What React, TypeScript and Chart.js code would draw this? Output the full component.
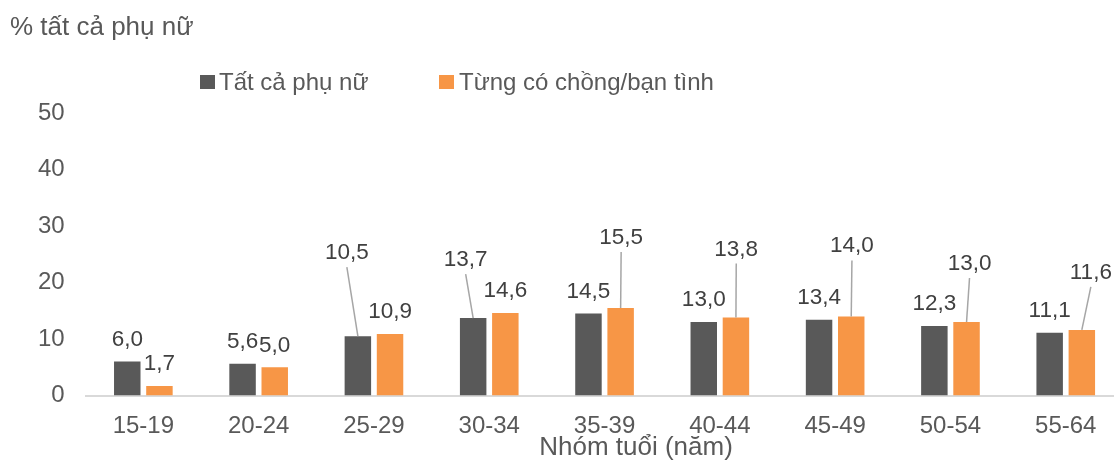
import React, { useEffect, useRef } from "react";
import { Chart, registerables } from "chart.js";

Chart.register(...registerables);

const categories = ["15-19", "20-24", "25-29", "30-34", "35-39", "40-44", "45-49", "50-54", "55-64"];
const allWomen = [6.0, 5.6, 10.5, 13.7, 14.5, 13.0, 13.4, 12.3, 11.1];
const everPartnered = [1.7, 5.0, 10.9, 14.6, 15.5, 13.8, 14.0, 13.0, 11.6];
const yTicks = [0, 10, 20, 30, 40, 50];
const seriesNames = ["Tất cả phụ nữ", "Từng có chồng/bạn tình"];
const yTitle = "% tất cả phụ nữ";
const xTitle = "Nhóm tuổi (năm)";

// label placement tweaks (display only): dx shift and rise of baseline above bar top
type Shift = { dx: number; rise: number } | null;
const allWomenLabelShift: Shift[] = [null, null, { dx: -11, rise: 77 }, { dx: -7.5, rise: 52 }, null, null, null, null, null];
const everLabelShift: Shift[] = [null, null, null, null, { dx: 0.5, rise: 64 }, { dx: 0.3, rise: 62 }, { dx: 0.7, rise: 64 }, { dx: 3, rise: 52 }, { dx: 9, rise: 51 }];

const DARK = "#595959";
const ORANGE = "#F79646";
const TEXT = "#595959";
const LABEL = "#404040";
const FONT = "'Liberation Sans', Arial, sans-serif";

const fmt = (v: number) => v.toFixed(1).replace(".", ",");

const labelsPlugin = {
  id: "customLabels",
  afterDatasetsDraw(chart: any) {
    const ctx = chart.ctx;
    const shifts = [allWomenLabelShift, everLabelShift];
    ctx.save();
    ctx.font = `22.5px ${FONT}`;
    ctx.textAlign = "center";
    ctx.textBaseline = "alphabetic";
    chart.data.datasets.forEach((ds: any, di: number) => {
      const meta = chart.getDatasetMeta(di);
      meta.data.forEach((el: any, i: number) => {
        const v = ds.data[i];
        const s = shifts[di][i];
        const dx = s ? s.dx : 0;
        const rise = s ? s.rise : 15.7;
        const tx = el.x + dx;
        const ty = el.y - rise;
        if (s) {
          ctx.strokeStyle = "#A6A6A6";
          ctx.lineWidth = 1.5;
          ctx.beginPath();
          ctx.moveTo(tx, ty + 8);
          ctx.lineTo(el.x, el.y);
          ctx.stroke();
        }
        ctx.fillStyle = LABEL;
        ctx.fillText(fmt(v), tx, ty);
      });
    });
    ctx.restore();
  },
  afterDraw(chart: any) {
    const ctx = chart.ctx;
    ctx.save();
    ctx.textBaseline = "alphabetic";
    ctx.textAlign = "left";
    ctx.fillStyle = TEXT;
    ctx.font = `26px ${FONT}`;
    ctx.fillText(yTitle, 10, 35);
    // legend
    ctx.font = `24px ${FONT}`;
    ctx.fillStyle = DARK;
    ctx.fillRect(200, 75, 15, 14);
    ctx.fillStyle = TEXT;
    ctx.fillText(seriesNames[0], 219, 90);
    ctx.fillStyle = ORANGE;
    ctx.fillRect(439, 75, 15, 14);
    ctx.fillStyle = TEXT;
    ctx.fillText(seriesNames[1], 459, 90);
    // x title
    ctx.font = `26px ${FONT}`;
    ctx.textAlign = "center";
    ctx.fillText(xTitle, 636, 455);
    ctx.restore();
  },
};

export default function App() {
  const ref = useRef<HTMLCanvasElement | null>(null);
  useEffect(() => {
    if (!ref.current) return;
    const chart = new Chart(ref.current, {
      type: "bar",
      data: {
        labels: categories,
        datasets: [
          { label: seriesNames[0], data: allWomen, backgroundColor: DARK, barPercentage: 0.823, categoryPercentage: 0.558 },
          { label: seriesNames[1], data: everPartnered, backgroundColor: ORANGE, barPercentage: 0.823, categoryPercentage: 0.558 },
        ],
      },
      options: {
        responsive: false,
        animation: false,
        devicePixelRatio: 1,
        layout: { padding: { left: 0, top: 113, right: 6.6, bottom: 25.5 } },
        plugins: { legend: { display: false }, tooltip: { enabled: false }, title: { display: false } },
        scales: {
          x: {
            grid: { display: false, drawTicks: false },
            border: { display: true, color: "#D9D9D9", width: 2 },
            ticks: { color: TEXT, font: { family: FONT, size: 24 }, padding: 16, maxRotation: 0, autoSkip: false },
            afterFit: (s: any) => { s.height = 40; },
          },
          y: {
            min: 0,
            max: 50,
            grid: { display: false, drawTicks: false },
            border: { display: false },
            afterBuildTicks: (s: any) => { s.ticks = yTicks.map((v) => ({ value: v })); },
            ticks: { color: TEXT, font: { family: FONT, size: 24 }, padding: 21 },
            afterFit: (s: any) => { s.width = 85.7; },
          },
        },
      },
      plugins: [labelsPlugin],
    });
    return () => chart.destroy();
  }, []);
  return (
    <div style={{ position: "absolute", left: 0, top: 0, width: 1114, height: 461, overflow: "hidden", background: "#fff" }}>
      <canvas ref={ref} width={1130} height={461} style={{ display: "block" }} />
    </div>
  );
}
